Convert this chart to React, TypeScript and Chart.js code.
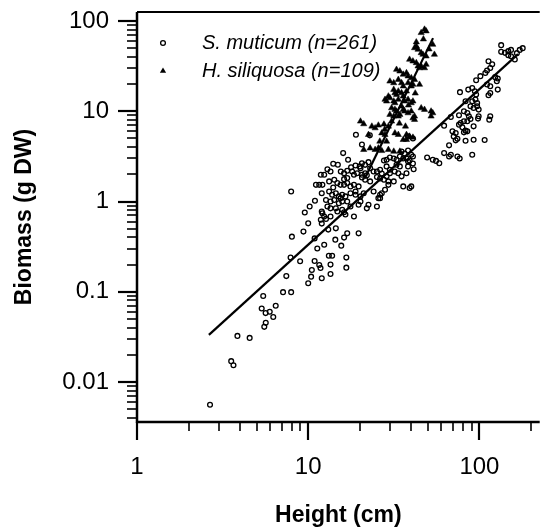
import React, { useEffect, useRef } from "react";
import { Chart, registerables } from "chart.js";

Chart.register(...registerables);

const FONT = "'Liberation Sans', Arial, Helvetica, sans-serif";

// ---- Data ----
const LEGEND_LABELS = ["S. muticum (n=261)", "H. siliquosa (n=109)"];
const X_TITLE = "Height (cm)";
const Y_TITLE = "Biomass (g DW)";
const xTickValues = [1, 10, 100];
const yTickValues = [0.01, 0.1, 1, 10, 100];
const X_MIN = 1;
const X_MAX = 225;
const Y_MIN = 0.0036;
const Y_MAX = 126;

// S. muticum: height (cm) and biomass (g DW)
const sMuticumHeight = [
  2.67, 3.55, 3.66, 3.86, 4.55, 5.54, 5.65, 6.25, 5.64, 5.96, 5.35, 6.46, 5.46, 7.13, 7.95, 10.0, 7.45, 10.4, 12.0, 13.5, 10.5, 11.6, 11.8, 13.5, 16.7, 8.97, 10.9, 7.89,
  8.03, 9.38, 10.0, 11.3, 13.2, 13.8, 16.7, 14.5, 16.9, 19.7, 16.2, 14.4, 10.9, 12.4, 15.6, 7.95, 12.0, 13.1,
  16.0, 17.1, 14.0, 14.9, 18.9, 20.0, 12.95, 13.5, 15.5, 16.2, 16.9, 18.05, 18.5, 20.6, 21.5, 22.5, 11.85, 12.4, 11.1, 11.6, 12.1, 13.25, 14.2, 14.8, 15.45, 16.2, 16.9, 17.65, 18.5, 19.7, 20.6, 21.5, 23.0, 24.1,
  12.0, 13.25, 13.8, 14.5, 15.1, 15.8, 16.5, 17.65, 18.9, 20.2, 21.1, 10.95, 13.5, 14.2, 15.1, 15.8, 16.9, 19.7, 20.2,
  12.0, 12.1, 12.95, 13.5, 14.5, 15.8, 16.2, 17.65, 12.4, 12.7, 13.5, 18.5, 22.0, 22.5, 25.2, 25.7, 26.3,
  19.0, 22.9, 20.6, 16.9, 16.2, 18.9, 12.7, 15.45, 14.8, 16.5, 11.85, 19.3, 17.8, 14.0, 10.2, 9.55,
  35.1, 36.6, 38.3, 40.0, 34.3, 35.9, 32.8, 31.6, 30.0, 28.7, 27.7, 37.5, 39.1, 40.9, 38.3, 40.9,
  20.2, 22.0, 20.6, 21.5, 23.0, 25.2, 26.3, 26.9, 25.2, 26.3, 27.7, 28.7, 30.0, 29.4, 33.6, 35.1, 37.5, 35.9, 39.1, 24.1, 26.9, 28.1, 26.3, 31.6, 29.4, 40.0, 53.4, 32.8, 34.3, 28.7, 30.0, 32.0, 41.3, 38.3, 55.8, 58.3, 49.5,
  134, 134, 141, 147.5, 153, 172, 147.5, 153, 161, 113, 115.7, 110.8, 108.3, 95.7, 123.6, 128, 126.4, 110.8, 115.7, 128, 86.1, 90.8, 77.0, 94.0, 95.7, 115.7, 113,
  83.0, 90.8, 94.8, 97.0, 88.7, 92.5, 97.0, 99.0, 81.2, 85.0, 76.0, 68.1, 115.7, 114.2, 86.8, 88.7, 85.0, 99.0, 98.2, 81.2, 77.7, 76.0, 92.5, 62.2, 79.5, 83.0, 81.2, 69.6, 72.7, 85.0, 70.8, 74.4, 72.7, 83.0, 92.5, 107.3, 66.5, 62.2, 66.5, 68.1, 74.4, 76.7, 90.8, 40.9, 38.3, 165.5, 179, 118.8, 101.3,
];
const sMuticumBiomass = [
  0.0056, 0.017, 0.0153, 0.0324, 0.0308, 0.0408, 0.0452, 0.0525, 0.058, 0.0599, 0.0652, 0.07, 0.0896, 0.099, 0.099, 0.124, 0.149, 0.147, 0.141, 0.157, 0.174, 0.198, 0.183, 0.2, 0.185, 0.218, 0.219, 0.239,
  0.408, 0.464, 0.573, 0.302, 0.251, 0.251, 0.239, 0.504, 0.444, 0.444, 0.398, 0.378, 0.39, 0.332, 0.324, 1.29, 0.569, 0.488,
  3.44, 2.9, 2.62, 2.56, 2.51, 2.45, 2.28, 2.15, 2.15, 2.06, 2.19, 2.15, 1.98, 2.66, 2.55, 2.73, 1.98, 1.98, 1.53, 1.53, 1.53, 1.67, 1.74, 1.6, 1.53, 1.53, 1.6, 1.47, 1.53, 1.47, 1.98, 2.06, 2.34, 2.15,
  1.235, 1.29, 1.19, 1.235, 1.14, 1.19, 1.14, 1.235, 1.19, 1.14, 1.235, 1.02, 1.0, 1.04, 0.957, 1.0, 1.0, 0.92, 1.0,
  0.774, 0.74, 0.88, 0.84, 0.84, 0.81, 0.76, 0.88, 0.681, 0.642, 0.681, 0.681, 0.84, 0.92, 0.88, 1.09, 1.19,
  5.5, 5.41, 4.29, 1.82, 1.77, 1.29, 1.04, 1.09, 0.774, 0.717, 0.628, 2.06, 2.39, 1.43, 0.88, 0.755,
  3.59, 3.41, 3.68, 3.3, 3.16, 3.0, 2.9, 3.0, 3.08, 2.9, 2.85, 3.0, 2.85, 2.64, 5.27, 5.0,
  2.33, 1.95, 1.85, 1.74, 1.67, 2.15, 2.25, 2.04, 1.87, 1.8, 1.74, 1.9, 2.06, 1.67, 2.06, 1.9, 2.06, 1.47, 1.41, 1.29, 1.235, 1.35, 1.09, 1.67, 1.53, 1.47, 2.9, 2.56, 2.45, 2.45, 2.25, 2.15, 2.28, 2.45, 2.82, 2.66, 3.08,
  54.1, 45.6, 44.4, 46.4, 47.9, 47.9, 41.9, 40.8, 37.5, 35.9, 30.2, 28.3, 26.6, 22.1, 23.9, 23.1, 21.5, 19.8, 18.96, 17.4, 17.4, 18.1, 16.3, 16.68, 15.3, 15.96, 15.06,
  12.92, 12.92, 13.5, 12.36, 11.36, 10.87, 11.36, 10.44, 10.0, 9.57, 9.03, 8.64, 8.8, 8.08, 8.8, 8.2, 7.74, 8.8, 8.3, 7.74, 7.41, 7.11, 6.81, 6.93, 6.64, 6.1, 5.84, 5.99, 5.73, 5.99, 5.27, 4.97, 4.76, 4.72, 4.84, 4.8, 4.19, 3.44, 3.16, 3.3, 3.16, 3.0, 3.3, 3.16, 2.78, 44.1, 50.1, 33.2, 24.5,
];

// H. siliquosa: height (cm) and biomass (g DW)
const hSiliquosaHeight = [
  45.7, 47.8, 48.85, 42.8, 41.8, 43.8, 45.7, 46.8, 48.85, 53.4,
  54.6, 39.1, 40.9, 42.8, 43.8, 44.7, 45.7, 47.8, 48.85, 32.8,
  34.3, 35.9, 37.5, 38.3, 40.0, 41.8, 30.0, 31.6, 33.6, 35.1,
  35.9, 38.3, 40.0, 40.9, 44.7, 31.6, 32.1, 32.8, 33.6, 35.1,
  35.9, 29.4, 30.0, 28.1, 28.7, 31.6, 32.1, 33.6, 36.6, 38.3,
  40.0, 40.9, 35.1, 35.9, 36.6, 30.7, 32.1, 32.8, 30.0, 31.6,
  33.6, 34.3, 45.7, 47.8, 52.2, 53.4, 52.2, 38.3, 40.0, 41.8,
  40.9, 21.1, 23.54, 24.6, 25.7, 27.7, 29.4, 26.9, 28.1, 32.1,
  33.6, 35.9, 37.5, 23.0, 21.1, 24.6, 25.7, 26.9, 29.4, 31.6,
  34.3, 37.5, 39.1, 40.9, 41.8, 20.2, 22.5, 26.2, 30.7, 28.0,
  42.8, 47.1, 50.8, 37.5, 42.2, 34.1, 37.0, 28.7, 38.5,
];
const hSiliquosaBiomass = [
  74.1, 80.8, 77.4, 52.7, 50.4, 48.4, 44.4, 42.6, 40.8, 55.0,
  42.6, 37.5, 35.9, 34.4, 31.6, 30.2, 31.6, 30.2, 33.0, 29.0,
  27.8, 25.6, 26.6, 24.5, 23.4, 22.4, 21.5, 20.6, 22.4, 20.6,
  18.96, 20.6, 18.96, 19.8, 19.8, 17.4, 15.96, 15.3, 16.68, 15.96,
  14.68, 14.68, 14.05, 13.5, 12.92, 12.92, 12.36, 13.5, 12.92, 13.5,
  12.36, 12.92, 11.36, 10.44, 10.0, 10.87, 10.44, 10.0, 9.19, 8.8,
  8.8, 9.19, 10.87, 10.44, 10.0, 9.57, 8.8, 9.57, 10.0, 8.8,
  8.42, 7.23, 6.81, 6.52, 6.99, 7.17, 6.81, 5.73, 5.5, 5.73,
  5.5, 4.84, 4.84, 3.9, 3.75, 3.75, 3.9, 3.65, 3.75, 3.59,
  3.59, 5.5, 5.27, 5.13, 8.08, 7.74, 5.5, 4.64, 7.74, 6.3,
  58.4, 63.0, 48.8, 16.68, 15.85, 7.35, 6.81, 4.64, 11.66,
];

// Fitted regression lines (end points)
const sFitHeight = [2.63, 168];
const sFitBiomass = [0.0333, 43];
const hFitHeight = [21.4, 53.6];
const hFitBiomass = [1.8, 64.7];

const toPoints = (xs: number[], ys: number[]) => xs.map((x, i) => ({ x, y: ys[i] }));

const axisFramePlugin = {
  id: "axisFrame",
  afterDraw(chart: any) {
    const { ctx, chartArea, scales } = chart;
    const xs = scales.x;
    const ys = scales.y;
    const { left, right, top, bottom } = chartArea;
    ctx.save();
    ctx.strokeStyle = "#000";
    ctx.fillStyle = "#000";
    ctx.lineCap = "butt";

    // x ticks (outside, below)
    for (let e = 0; e <= 3; e++) {
      const d = Math.pow(10, e);
      for (let m = 1; m <= 9; m++) {
        const v = m * d;
        if (v < xs.min - 1e-9 || v > xs.max) continue;
        const px = Math.round(xs.getPixelForValue(v));
        const major = m === 1;
        ctx.lineWidth = major ? 2.2 : 1.6;
        ctx.beginPath();
        ctx.moveTo(px, bottom);
        ctx.lineTo(px, bottom + (major ? 18 : 9));
        ctx.stroke();
      }
    }
    // y ticks (outside, left)
    for (let e = -3; e <= 2; e++) {
      const d = Math.pow(10, e);
      for (let m = 1; m <= 9; m++) {
        const v = m * d;
        if (v < ys.min || v > ys.max) continue;
        const py = Math.round(ys.getPixelForValue(v));
        const major = m === 1;
        ctx.lineWidth = major ? 2.2 : 1.6;
        ctx.beginPath();
        ctx.moveTo(left - (major ? 19 : 10), py);
        ctx.lineTo(left, py);
        ctx.stroke();
      }
    }
    // axis lines and top frame
    ctx.lineWidth = 2.5;
    ctx.beginPath();
    ctx.moveTo(left, top);
    ctx.lineTo(left, bottom + 1);
    ctx.moveTo(left - 1, bottom);
    ctx.lineTo(right, bottom);
    ctx.stroke();
    ctx.lineWidth = 2;
    ctx.beginPath();
    ctx.moveTo(left, top);
    ctx.lineTo(right, top);
    ctx.stroke();

    // legend inside plot
    const mx = left + 26;
    const tx = left + 65;
    const y1 = top + 31;
    const y2 = top + 59;
    ctx.lineWidth = 1.3;
    ctx.beginPath();
    ctx.arc(mx, y1, 2.4, 0, Math.PI * 2);
    ctx.stroke();
    const r = 3.6;
    ctx.beginPath();
    ctx.moveTo(mx, y2 - r);
    ctx.lineTo(mx + r * 0.866, y2 + r * 0.5);
    ctx.lineTo(mx - r * 0.866, y2 + r * 0.5);
    ctx.closePath();
    ctx.fill();
    ctx.font = `italic 20px ${FONT}`;
    ctx.textBaseline = "middle";
    ctx.textAlign = "left";
    ctx.fillText(LEGEND_LABELS[0], tx, y1);
    ctx.fillText(LEGEND_LABELS[1], tx, y2);
    ctx.restore();
  },
};

export default function App() {
  const canvasRef = useRef<HTMLCanvasElement | null>(null);

  useEffect(() => {
    const canvas = canvasRef.current;
    if (!canvas) return;
    const chart = new Chart(canvas, {
      type: "scatter",
      data: {
        datasets: [
          {
            type: "line",
            label: "S. muticum fit",
            data: toPoints(sFitHeight, sFitBiomass),
            borderColor: "#000",
            borderWidth: 2.2,
            pointRadius: 0,
            showLine: true,
            fill: false,
            tension: 0,
          } as any,
          {
            type: "line",
            label: "H. siliquosa fit",
            data: toPoints(hFitHeight, hFitBiomass),
            borderColor: "#000",
            borderWidth: 2.2,
            pointRadius: 0,
            showLine: true,
            fill: false,
            tension: 0,
          } as any,
          {
            label: LEGEND_LABELS[0],
            data: toPoints(sMuticumHeight, sMuticumBiomass),
            pointStyle: "circle",
            pointRadius: 2.4,
            borderColor: "#000",
            backgroundColor: "rgba(0,0,0,0)",
            borderWidth: 1.3,
          },
          {
            label: LEGEND_LABELS[1],
            data: toPoints(hSiliquosaHeight, hSiliquosaBiomass),
            pointStyle: "triangle",
            pointRadius: 3.6,
            borderColor: "#000",
            backgroundColor: "#000",
            borderWidth: 0.5,
          },
        ],
      },
      options: {
        animation: false,
        responsive: false,
        devicePixelRatio: 1,
        events: [],
        layout: { padding: { top: 12, left: 0, right: 0, bottom: 0 } },
        plugins: {
          legend: { display: false },
          tooltip: { enabled: false },
          title: { display: false },
        },
        scales: {
          x: {
            type: "logarithmic",
            min: X_MIN,
            max: X_MAX,
            grid: { display: false, drawTicks: false, tickLength: 0 },
            border: { display: false },
            afterBuildTicks: (s: any) => {
              s.ticks = xTickValues.map((v) => ({ value: v }));
            },
            afterFit: (s: any) => {
              s.height = 105;
              s.paddingLeft = 0;
              s.paddingRight = 0;
            },
            ticks: {
              font: { family: FONT, size: 24 },
              color: "#000",
              padding: 30.5,
              maxRotation: 0,
              autoSkip: false,
              callback: (v: any) => String(v),
            },
            title: {
              display: true,
              text: X_TITLE,
              color: "#000",
              font: { family: FONT, size: 23, weight: "bold", lineHeight: 1 },
              padding: { top: 0, bottom: 0 },
            },
          },
          y: {
            type: "logarithmic",
            min: Y_MIN,
            max: Y_MAX,
            grid: { display: false, drawTicks: false, tickLength: 0 },
            border: { display: false },
            afterBuildTicks: (s: any) => {
              s.ticks = yTickValues.map((v) => ({ value: v }));
            },
            afterFit: (s: any) => {
              s.width = 137;
              s.paddingTop = 0;
              s.paddingBottom = 0;
            },
            ticks: {
              font: { family: FONT, size: 24 },
              color: "#000",
              padding: 28,
              autoSkip: false,
              callback: (v: any) => String(v),
            },
            title: {
              display: true,
              text: Y_TITLE,
              color: "#000",
              font: { family: FONT, size: 23, weight: "bold", lineHeight: 1 },
              padding: { top: 13.5, bottom: 0 },
            },
          },
        },
      },
      plugins: [axisFramePlugin],
    } as any);
    return () => chart.destroy();
  }, []);

  return (
    <div style={{ position: "fixed", left: 0, top: 0, width: 545, height: 527, background: "#fff" }}>
      <canvas ref={canvasRef} width={545} height={527} style={{ display: "block", width: 545, height: 527 }} />
    </div>
  );
}
